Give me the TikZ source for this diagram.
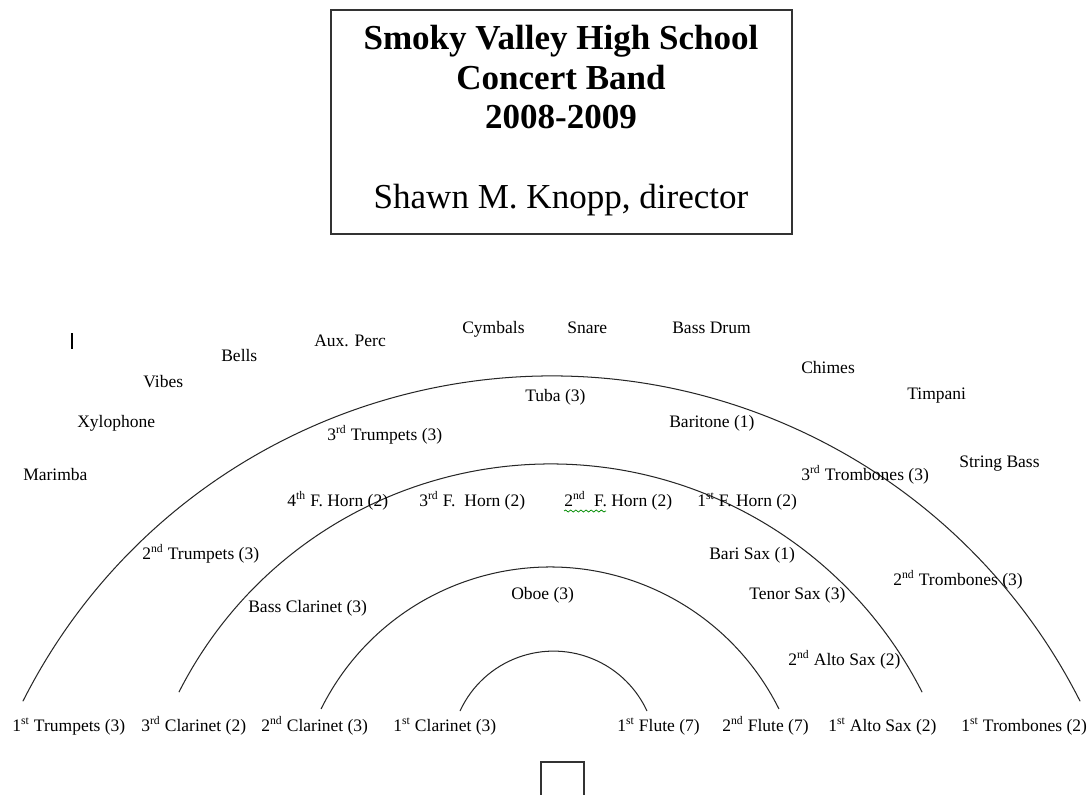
\documentclass[tikz,border=0pt]{standalone}
\usepackage{fontspec}
\setmainfont{Liberation Serif}
\usetikzlibrary{decorations.pathmorphing}
\tikzset{
  lbl/.style={anchor=base west, inner sep=0pt, font=\fontsize{12}{14}\selectfont},
  ttl/.style={anchor=base, inner sep=0pt, font=\fontsize{24}{27}\selectfont\bfseries},
  ttlreg/.style={anchor=base, inner sep=0pt, font=\fontsize{24}{27}\selectfont},
  arcline/.style={draw=black!85, line width=0.7pt},
  boxline/.style={draw=black!80, line width=0.8pt}
}
\newcommand{\sst}{\textsuperscript{st}}
\newcommand{\snd}{\textsuperscript{nd}}
\newcommand{\srd}{\textsuperscript{rd}}
\newcommand{\sth}{\textsuperscript{th}}
\begin{document}
\begin{tikzpicture}[x=0.685pt, y=-0.685pt]
\useasboundingbox (0,0) rectangle (1088,794);
\clip (0,0) rectangle (1088,794);
\fill[white] (0,0) rectangle (1088,794);

% title box
\draw[boxline] (331,10) rectangle (792,234);
\node[ttl] (t1) at (561,49) {Smoky Valley High School};
\node[ttl] (t2) at (561,89) {Concert Band};
\node[ttl] (t3) at (561,128) {2008-2009};
\node[ttlreg] (t4) at (561,208) {Shawn M. Knopp, director};

% arcs
\coordinate (c1) at (551.5,968.2);
\coordinate (c2) at (550.5,880.7);
\coordinate (c3) at (550,822.6);
\coordinate (c4) at (553.5,754);
\draw[arcline] (c1) ++(206.8:592.2) arc[start angle=206.8, end angle=333.2, radius=592.2];
\draw[arcline] (c2) ++(206.9:416.7) arc[start angle=206.9, end angle=333.1, radius=416.7];
\draw[arcline] (c3) ++(206.4:255.6) arc[start angle=206.4, end angle=333.6, radius=255.6];
\draw[arcline] (c4) ++(204.7:102.9) arc[start angle=204.7, end angle=335.3, radius=102.9];

% cursor mark
\draw[line width=0.9pt] (72,333) -- (72,349);

% percussion
\node[lbl] (marimba) at (23,480) {Marimba};
\node[lbl] (xylo) at (77,427) {Xylophone};
\node[lbl] (vibes) at (143,387) {Vibes};
\node[lbl] (bells) at (221,361) {Bells};
\node[lbl] (aux) at (314,346) {Aux. Perc};
\node[lbl] (cym) at (462,333) {Cymbals};
\node[lbl] (snare) at (567,333) {Snare};
\node[lbl] (bd) at (672,333) {Bass Drum};
\node[lbl] (chimes) at (801,373) {Chimes};
\node[lbl] (timp) at (907,399) {Timpani};
\node[lbl] (sbass) at (959,467) {String Bass};

% back row
\node[lbl] (tuba) at (525,401) {Tuba (3)};
\node[lbl] (bari) at (669,427) {Baritone (1)};
\node[lbl] (tpt3) at (327,440) {3\srd{} Trumpets (3)};
\node[lbl] (tbn3) at (801,480) {3\srd{} Trombones (3)};
\node[lbl] (tpt2) at (142,559) {2\snd{} Trumpets (3)};
\node[lbl] (tbn2) at (893,585) {2\snd{} Trombones (3)};

% horns and saxes
\node[lbl] (hn4) at (287,506) {4\sth{} F. Horn (2)};
\node[lbl] (hn3) at (419,506) {3\srd{} F.\ \ Horn (2)};
\node[lbl] (hn2) at (564,506) {2\snd\ \ F. Horn (2)};
\node[lbl] (hn1) at (697,506) {1\sst{} F. Horn (2)};
\node[lbl] (barisax) at (709,559) {Bari Sax (1)};
\node[lbl] (tensax) at (749,599) {Tenor Sax (3)};
\node[lbl] (bcl) at (248,612) {Bass Clarinet (3)};
\node[lbl] (oboe) at (511,599) {Oboe (3)};
\node[lbl] (as2) at (788,665) {2\snd{} Alto Sax (2)};

% spell-check squiggle
\draw[green!55!black, line width=0.5pt, decorate, decoration={snake, amplitude=0.7pt, segment length=3.5pt}] (564,511) -- (606,511);

% front row
\node[lbl] (tpt1) at (12,731) {1\sst{} Trumpets (3)};
\node[lbl] (cl3) at (141,731) {3\srd{} Clarinet (2)};
\node[lbl] (cl2) at (261,731) {2\snd{} Clarinet (3)};
\node[lbl] (cl1) at (393,731) {1\sst{} Clarinet (3)};
\node[lbl] (fl1) at (617,731) {1\sst{} Flute (7)};
\node[lbl] (fl2) at (722,731) {2\snd{} Flute (7)};
\node[lbl] (as1) at (828,731) {1\sst{} Alto Sax (2)};
\node[lbl] (tbn1) at (961,731) {1\sst{} Trombones (2)};

% podium
\draw[boxline] (541,800) -- (541,762) -- (584,762) -- (584,800);
\end{tikzpicture}
\end{document}
